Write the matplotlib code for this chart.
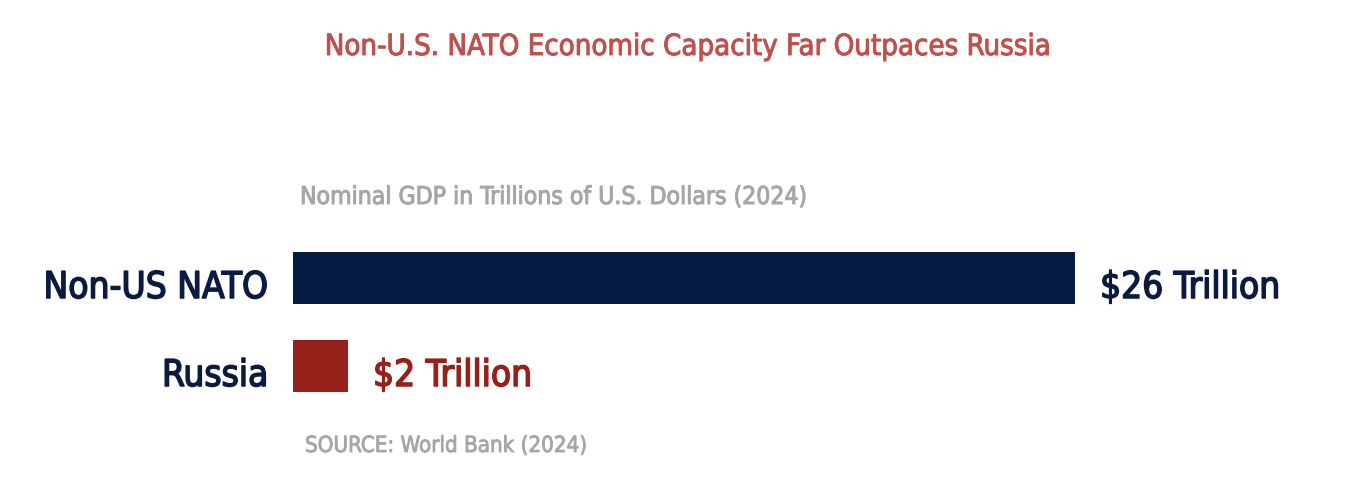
import matplotlib
matplotlib.use('Agg')
import matplotlib.pyplot as plt
import matplotlib.patheffects as pe
from matplotlib import font_manager

# Data
categories = ['Non-US NATO', 'Russia']
gdp = [26.0, 1.83]
value_labels = ['$26 Trillion', '$2 Trillion']
bar_colors = ['#041a40', '#96201a']
label_colors = ['#0b1a3f', '#96201a']

# pick a narrow font if one is installed
names = {f.name for f in font_manager.fontManager.ttflist}
fam = 'Liberation Sans Narrow' if 'Liberation Sans Narrow' in names else 'DejaVu Sans'
stretch = 'normal' if fam == 'Liberation Sans Narrow' else 'condensed'
plt.rcParams['font.family'] = fam
plt.rcParams['font.stretch'] = stretch


def heavy(color, lw):
    # thicken the regular weight a little (reference is a medium weight)
    return [pe.withStroke(linewidth=lw, foreground=color)]


W, H = 1360, 482
fig = plt.figure(figsize=(W / 100, H / 100), dpi=100)
fig.patch.set_facecolor('white')

# axes placed in pixel coordinates: left edge at 293 px, rows at 278 / 366 px
px_per_unit = 30.08
left, top, bottom = 293, 234, 410
ax = fig.add_axes([left / W, 1 - bottom / H, (W - left) / W, (bottom - top) / H])
ax.set_xlim(0, (W - left) / px_per_unit)
ax.set_ylim(1.5, -0.5)
ax.axis('off')

ypos = list(range(len(categories)))
ax.barh(ypos, gdp, height=52 / 88, color=bar_colors)

for y, v, cat, lab, c in zip(ypos, gdp, categories, value_labels, label_colors):
    ax.annotate(cat, xy=(0, y), xytext=(-25, -20), textcoords='offset pixels',
                ha='right', va='baseline', fontsize=26.5, color='#0b1a3f',
                path_effects=heavy('#0b1a3f', 1.1))
    ax.annotate(lab, xy=(v, y), xytext=(25, -20), textcoords='offset pixels',
                ha='left', va='baseline', fontsize=26.5, color=c,
                path_effects=heavy(c, 1.1))

fig.text(688 / W, 1 - 55 / H, 'Non-U.S. NATO Economic Capacity Far Outpaces Russia',
         ha='center', va='baseline', fontsize=21, color='#c0504d',
         path_effects=heavy('#c0504d', 0.7))
fig.text(300 / W, 1 - 204 / H, 'Nominal GDP in Trillions of U.S. Dollars (2024)',
         ha='left', va='baseline', fontsize=17.7, color='#a6a6a6',
         path_effects=heavy('#a6a6a6', 0.7))
fig.text(305 / W, 1 - 452 / H, 'SOURCE: World Bank (2024)',
         ha='left', va='baseline', fontsize=16, color='#a6a6a6',
         path_effects=heavy('#a6a6a6', 0.6))

fig.savefig('out.png', dpi=100, facecolor='white')
